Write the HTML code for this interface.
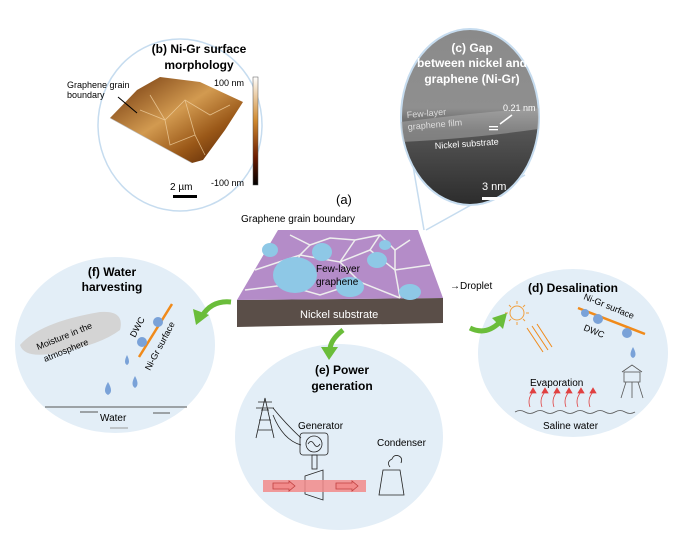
<!DOCTYPE html>
<html><head><style>
body{margin:0;background:#fff}
svg{display:block}
text{font-family:"Liberation Sans",sans-serif}
.b{font-weight:bold}
</style></head><body>
<svg width="685" height="543" viewBox="0 0 685 543">
<defs>
<linearGradient id="afm" x1="0" y1="0" x2="1" y2="1"><stop offset="0" stop-color="#6a3008"/><stop offset="0.45" stop-color="#d29a50"/><stop offset="0.7" stop-color="#9a5818"/><stop offset="1" stop-color="#4a1c03"/></linearGradient>
<linearGradient id="cbar" x1="0" y1="0" x2="0" y2="1"><stop offset="0" stop-color="#fff"/><stop offset="0.4" stop-color="#d08a30"/><stop offset="0.75" stop-color="#6a1a00"/><stop offset="1" stop-color="#000"/></linearGradient>
<linearGradient id="tem" x1="0" y1="0" x2="0" y2="1"><stop offset="0" stop-color="#8a8a8a"/><stop offset="0.45" stop-color="#8f8f8f"/><stop offset="0.58" stop-color="#555"/><stop offset="1" stop-color="#2c2c2c"/></linearGradient>
<clipPath id="cc"><ellipse cx="470" cy="117" rx="69" ry="88"/></clipPath>
</defs>
<!-- c connector lines -->
<line x1="412" y1="160" x2="424" y2="230" stroke="#c6dcef" stroke-width="1.5"/>
<line x1="525" y1="175" x2="426" y2="230" stroke="#c6dcef" stroke-width="1.5"/>
<!-- b circle -->
<ellipse cx="180" cy="125" rx="82" ry="86" fill="#fff" stroke="#c6dcef" stroke-width="1.5"/>
<polygon points="110,118 137,90 160,77 200,82 243,102 225,130 203,160 192,163 150,140" fill="url(#afm)"/>
<g stroke="#f0d0a0" stroke-width="0.8" fill="none" opacity=".8"><path d="M140,110 L165,120 L185,100 L210,115 L230,105"/><path d="M165,120 L170,145 L195,135 L205,155"/><path d="M185,100 L195,135"/><path d="M150,95 L165,120"/></g>
<polyline points="110,118 150,140 192,163" fill="none" stroke="#bbb" stroke-width="0.6"/>
<rect x="253" y="77" width="5" height="108" fill="url(#cbar)" stroke="#555" stroke-width="0.5"/>
<text x="199" y="53" font-size="12" class="b" text-anchor="middle">(b) Ni-Gr surface</text>
<text x="199" y="69" font-size="12" class="b" text-anchor="middle">morphology</text>
<text x="67" y="88" font-size="9">Graphene grain</text>
<text x="67" y="98" font-size="9">boundary</text>
<line x1="118" y1="97" x2="137" y2="113" stroke="#000" stroke-width="1"/>
<text x="214" y="86" font-size="9">100 nm</text>
<text x="211" y="186" font-size="9">-100 nm</text>
<text x="170" y="190" font-size="10">2 µm</text>
<rect x="173" y="195" width="24" height="3" fill="#000"/>
<!-- c circle -->
<ellipse cx="470" cy="117" rx="69" ry="88" fill="url(#tem)" stroke="#c6dcef" stroke-width="2"/>
<g clip-path="url(#cc)"><path d="M400,122 Q450,116 480,113 T545,108 L545,128 Q480,138 400,142Z" fill="#b0b0b0" opacity=".5"/></g>
<text x="472" y="52" font-size="12" class="b" fill="#fff" text-anchor="middle">(c) Gap</text>
<text x="472" y="67" font-size="12" class="b" fill="#fff" text-anchor="middle">between nickel and</text>
<text x="472" y="83" font-size="12" class="b" fill="#fff" text-anchor="middle">graphene (Ni-Gr)</text>
<text x="503" y="111" font-size="9" fill="#fff">0.21 nm</text>
<line x1="512" y1="115" x2="500" y2="124" stroke="#fff" stroke-width="1.5"/>
<text x="407" y="118" font-size="9" fill="#ddd" transform="rotate(-5 407 118)">Few-layer</text>
<text x="408" y="130" font-size="9" fill="#ddd" transform="rotate(-5 408 130)">graphene film</text>
<rect x="489" y="126" width="9" height="1.3" fill="#fff"/><rect x="489" y="129" width="9" height="1.3" fill="#fff"/>
<text x="435" y="149" font-size="9" fill="#fff" transform="rotate(-4 435 149)">Nickel substrate</text>
<text x="482" y="190" font-size="11" fill="#fff">3 nm</text>
<rect x="482" y="197" width="28" height="3" fill="#fff"/>
<!-- f circle -->
<ellipse cx="115" cy="345" rx="100" ry="88" fill="#e3eef7"/>
<text x="112" y="276" font-size="12" class="b" text-anchor="middle">(f) Water</text>
<text x="112" y="291" font-size="12" class="b" text-anchor="middle">harvesting</text>
<path d="M20,345 Q40,322 100,312 Q125,310 120,330 Q100,345 60,352 Q25,360 20,345Z" fill="#d4d4d4"/>
<text x="38" y="350" font-size="9" transform="rotate(-22 38 350)">Moisture in the</text>
<text x="45" y="362" font-size="9" transform="rotate(-22 45 362)">atmosphere</text>
<line x1="139" y1="357" x2="172" y2="304" stroke="#f08a1a" stroke-width="2.5"/>
<text x="135" y="338" font-size="9" transform="rotate(-62 135 338)">DWC</text>
<text x="150" y="371" font-size="9" transform="rotate(-62 150 371)">Ni-Gr surface</text>
<circle cx="158" cy="322" r="5" fill="#7aa2d8"/><circle cx="142" cy="342" r="5" fill="#7aa2d8"/>
<g fill="#7aa2d8"><path d="M127,355 q-4,8 0,10 q4,-2 0,-10z"/><path d="M108,382 q-6,10 0,13 q6,-3 0,-13z"/><path d="M135,376 q-5,9 0,12 q5,-3 0,-12z"/></g>
<line x1="45" y1="407" x2="187" y2="407" stroke="#555"/>
<line x1="80" y1="412" x2="98" y2="412" stroke="#555"/><line x1="153" y1="413" x2="170" y2="413" stroke="#555"/>
<text x="100" y="421" font-size="10">Water</text>
<line x1="110" y1="428" x2="128" y2="428" stroke="#999"/>
<!-- d circle -->
<ellipse cx="573" cy="353" rx="95" ry="84" fill="#e3eef7"/>
<text x="528" y="292" font-size="12" class="b">(d) Desalination</text>
<circle cx="517" cy="313" r="7" fill="none" stroke="#f0a040" stroke-width="1"/>
<g stroke="#f0a040" stroke-width="1"><line x1="517" y1="301" x2="517" y2="304"/><line x1="517" y1="322" x2="517" y2="325"/><line x1="505" y1="313" x2="508" y2="313"/><line x1="526" y1="313" x2="529" y2="313"/><line x1="509" y1="305" x2="511" y2="307"/><line x1="523" y1="319" x2="525" y2="321"/><line x1="525" y1="305" x2="523" y2="307"/><line x1="509" y1="321" x2="511" y2="319"/></g>
<g stroke="#f08a1a" stroke-width="1"><line x1="527" y1="328" x2="543" y2="352"/><line x1="532" y1="326" x2="548" y2="350"/><line x1="537" y1="324" x2="552" y2="347"/></g>
<line x1="578" y1="308" x2="645" y2="334" stroke="#f08a1a" stroke-width="2.5"/>
<text x="583" y="299" font-size="9" transform="rotate(22 583 299)">Ni-Gr surface</text>
<text x="583" y="330" font-size="9" transform="rotate(22 583 330)">DWC</text>
<circle cx="585" cy="313" r="4" fill="#7aa2d8"/><circle cx="598" cy="319" r="5" fill="#7aa2d8"/><circle cx="627" cy="333" r="5" fill="#7aa2d8"/>
<path d="M633,347 q-5,9 0,11 q5,-2 0,-11z" fill="#7aa2d8"/>
<g stroke="#555" fill="none" stroke-width="0.8"><rect x="624" y="372" width="16" height="10"/><path d="M622,372 L632,365 L642,372"/><line x1="626" y1="382" x2="621" y2="398"/><line x1="638" y1="382" x2="643" y2="398"/><line x1="632" y1="382" x2="632" y2="398"/></g>
<text x="530" y="386" font-size="10">Evaporation</text>
<g stroke="#e04040" fill="#e04040" stroke-width="0.8"><path d="M530,407 q-3,-8 3,-15" fill="none"/><path d="M542,407 q-3,-8 3,-15" fill="none"/><path d="M554,407 q-3,-8 3,-15" fill="none"/><path d="M566,407 q-3,-8 3,-15" fill="none"/><path d="M578,407 q-3,-8 3,-15" fill="none"/><path d="M590,407 q-3,-8 3,-15" fill="none"/>
<polygon points="530,393 536,393 533,388"/><polygon points="542,393 548,393 545,388"/><polygon points="554,393 560,393 557,388"/><polygon points="566,393 572,393 569,388"/><polygon points="578,393 584,393 581,388"/><polygon points="590,393 596,393 593,388"/></g>
<path d="M515,412 q5,-3 10,0 t10,0 t10,0 t10,0 t10,0 t10,0 t10,0 t10,0 t10,0 t10,0 t10,0 t10,0" fill="none" stroke="#555" stroke-width="0.8"/>
<text x="543" y="429" font-size="10">Saline water</text>
<!-- e circle -->
<ellipse cx="339" cy="437" rx="104" ry="93" fill="#e3eef7"/>
<text x="342" y="374" font-size="12" class="b" text-anchor="middle">(e) Power</text>
<text x="342" y="390" font-size="12" class="b" text-anchor="middle">generation</text>
<g stroke="#222" fill="none" stroke-width="0.8"><path d="M256,438 L265,398 L274,438 M259,420 L271,420 M258,430 L272,430 M261,410 L269,410 M256,408 L274,408 M258,402 L272,402"/>
<path d="M273,408 q12,15 28,30 M273,415 q10,25 28,30"/>
<rect x="300" y="433" width="28" height="22" rx="3"/><circle cx="314" cy="444" r="8"/><path d="M308,444 q3,-5 6,0 t6,0"/>
<rect x="312" y="455" width="5" height="14"/>
<path d="M305,476 L323,470 L323,500 L305,494Z"/>
<path d="M379,495 L383,470 L400,470 L404,495Z"/><path d="M390,467 q-4,-5 2,-8 q2,-5 7,-3 q4,2 2,7"/></g>
<rect x="263" y="480" width="103" height="12" fill="#f28a8a" opacity=".85"/>
<path d="M273,483 h16 v-2 l6,5 l-6,5 v-2 h-16z" fill="#f28a8a" stroke="#c04040" stroke-width="0.8"/>
<path d="M336,483 h16 v-2 l6,5 l-6,5 v-2 h-16z" fill="#f28a8a" stroke="#c04040" stroke-width="0.8"/>
<text x="298" y="429" font-size="10">Generator</text>
<text x="377" y="446" font-size="10">Condenser</text>
<!-- green arrows -->
<path d="M231,302 Q212,300 202,316" fill="none" stroke="#6abd3a" stroke-width="5"/><polygon points="193,309 196,325 209,315" fill="#6abd3a"/>
<path d="M343,330 Q330,340 330,350" fill="none" stroke="#6abd3a" stroke-width="5"/><polygon points="321,347 338,347 329,360" fill="#6abd3a"/>
<path d="M470,328 Q486,336 500,322" fill="none" stroke="#6abd3a" stroke-width="5"/><polygon points="492,318 507,313 503,329" fill="#6abd3a"/>
<!-- (a) block -->
<text x="336" y="204" font-size="13">(a)</text>
<text x="241" y="222" font-size="10">Graphene grain boundary</text>
<polygon points="237,300 443,298 443,323 237,327" fill="#5a4e48"/>
<polygon points="278,230 418,230 443,298 237,300" fill="#b48cc8"/>
<g stroke="#eee" stroke-width="1.5" fill="none"><path d="M290,235 L310,245 L330,238 L355,240 L380,235 L395,250 L410,240"/><path d="M255,270 L300,255 L340,262 L370,250 L395,270 L430,265"/><path d="M245,290 L285,285 L320,295 L360,282 L400,298"/><path d="M310,245 L300,255 L285,285"/><path d="M355,240 L340,262 L360,282"/><path d="M395,250 L395,270 L400,298"/><path d="M380,235 L370,250"/></g>
<g fill="#8ec8e6"><ellipse cx="295" cy="275" rx="22" ry="18"/><ellipse cx="322" cy="252" rx="10" ry="9"/><ellipse cx="377" cy="260" rx="10" ry="8"/><ellipse cx="350" cy="287" rx="14" ry="10"/><ellipse cx="410" cy="292" rx="11" ry="8"/><ellipse cx="385" cy="245" rx="6" ry="5"/><ellipse cx="270" cy="250" rx="8" ry="7"/></g>
<text x="316" y="272" font-size="10">Few-layer</text>
<text x="316" y="285" font-size="10">graphene</text>
<text x="450" y="289" font-size="10">→Droplet</text>
<text x="300" y="318" font-size="11" fill="#fff">Nickel substrate</text>
</svg>
</body></html>
